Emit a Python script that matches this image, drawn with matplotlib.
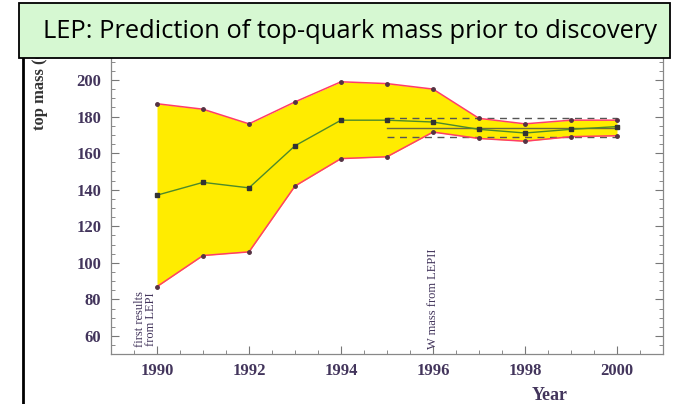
import numpy as np
import matplotlib
matplotlib.use('Agg')
import matplotlib.pyplot as plt
from matplotlib.patches import Rectangle
from matplotlib.lines import Line2D
from matplotlib.ticker import MultipleLocator

# top-mass prediction band per year (GeV)
years = np.arange(1990, 2001)
upper = np.array([187, 184, 176, 188, 199, 198, 195, 179, 176, 178, 178])
central = np.array([137, 144, 141, 164, 178, 178, 177, 173, 171, 173, 174.5])
lower = np.array([87, 104, 106, 142, 157, 158, 171.5, 168, 166.5, 169, 169.5])

# direct measurement band (174 +- 5) drawn from 1995 on
meas_years = np.array([1995, 2000])
meas_mid = 174
meas_err = 5

title = 'LEP: Prediction of top-quark mass prior to discovery'
ink = '#43355c'
serif = ['Liberation Serif', 'DejaVu Serif']

fig = plt.figure(figsize=(6.73, 4.04), dpi=100)
ax = fig.add_axes([111/673, 1 - 354.3/404, 552/673, (354.3 - 58)/404])

ax.fill_between(years, lower, upper, color='#ffec00', lw=0, zorder=1)
ax.plot(years, upper, color='#ff3d6a', lw=1.1, marker='o', ms=2.5,
        mfc='#553344', mec='#553344', zorder=3)
ax.plot(years, lower, color='#ff3d6a', lw=1.1, marker='o', ms=2.5,
        mfc='#553344', mec='#553344', zorder=3)
ax.plot(years, central, color='#4d8a2a', lw=1.0, marker='s', ms=3,
        mfc='#333333', mec='#333333', zorder=4)

for v in (meas_mid + meas_err, meas_mid - meas_err):
    ax.plot(meas_years, [v, v], color='#555555', lw=1.0, ls=(0, (5, 4)), zorder=2)
ax.plot(meas_years, [meas_mid, meas_mid], color='#6a6a40', lw=1.0, zorder=2)

ax.set_xlim(1989, 2001)
ax.set_ylim(50, 212)
ax.xaxis.set_major_locator(MultipleLocator(2))
ax.xaxis.set_minor_locator(MultipleLocator(0.5))
ax.yaxis.set_major_locator(MultipleLocator(20))
ax.yaxis.set_minor_locator(MultipleLocator(5))
ax.tick_params(which='both', direction='in', colors='#777777', right=True,
               labelcolor=ink)
ax.tick_params(which='major', length=6, width=0.8)
ax.tick_params(which='minor', length=3, width=0.6)
ax.tick_params(axis='y', pad=7)
ax.tick_params(axis='x', pad=6)
for lab in ax.get_xticklabels() + ax.get_yticklabels():
    lab.set_fontfamily(serif)
    lab.set_fontweight('bold')
    lab.set_fontsize(12)

for s in ax.spines.values():
    s.set_color('#888888')
    s.set_linewidth(0.9)
ax.spines['top'].set_visible(False)

ax.text(1989.75, 69.3, 'first results\nfrom LEPI', rotation=90, ha='center',
        va='center', fontsize=9, color=ink, family=serif, linespacing=0.9)
ax.text(1996.0, 80.2, 'W mass from LEPII', rotation=90, ha='center', va='center',
        fontsize=9, color=ink, family=serif)

fig.text(550/673, 1 - 396/404, 'Year', ha='center', va='center', fontsize=13,
         fontweight='bold', color=ink, family=serif)
fig.text(40/673, 1 - 130/404, 'top mass (GeV)', rotation=90, ha='center',
         va='bottom', fontsize=12, fontweight='bold', color='#333333', family=serif)

# frame line of the pasted picture and the slide title box
fig.add_artist(Line2D([23/673, 23/673], [0, 1 - 58/404], color='black', lw=2))
fig.add_artist(Rectangle((19/673, 1 - 58/404), 651/673, 55/404,
                         transform=fig.transFigure, facecolor='#d6f8d2',
                         edgecolor='black', lw=1.3, zorder=10))
t = fig.text(350/673, 1 - 31/404, title, ha='center', va='center', fontsize=18,
             family=['Open Sans', 'DejaVu Sans'], color='black', zorder=11)
fig.canvas.draw()
w = t.get_window_extent().width
t.set_fontsize(18 * 615 / w)

fig.savefig('out.png', dpi=100)
